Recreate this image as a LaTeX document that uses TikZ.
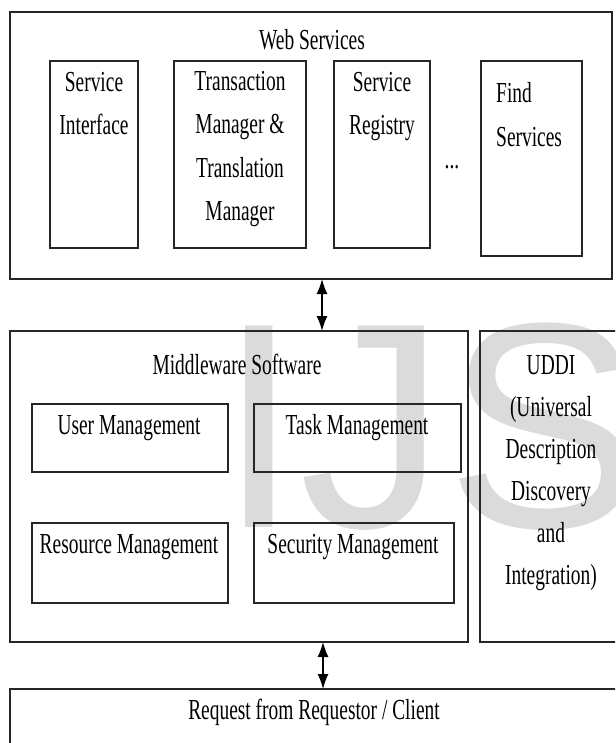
\documentclass[tikz,border=0pt]{standalone}
\usepackage{graphicx}
\usepackage{fontspec}
\setmainfont{Liberation Serif}
\newfontfamily\wmfont{Liberation Sans}
\usetikzlibrary{arrows.meta}
\newcommand{\sq}[1]{\scalebox{0.67}[1]{#1}}
\begin{document}
\begin{tikzpicture}[x=1pt,y=-1pt,
  box/.style={draw=black!85, line width=1.6pt, inner sep=0pt, outer sep=0pt},
  lbl/.style={inner sep=0pt, anchor=base, font=\fontsize{29}{43}\selectfont, align=center},
  wm/.style={inner sep=0pt, anchor=base west, text=black!14, font=\wmfont\fontsize{293}{300}\selectfont},
  link/.style={line width=1.4pt, {Latex[length=15pt,width=11pt]}-{Latex[length=15pt,width=11pt]}}]
\useasboundingbox (0,0) rectangle (615,743);
\clip (0,0) rectangle (615,743);
\fill[white] (0,0) rectangle (615,743);
% watermark
\node[wm] (wm) at (218,527) {IJS};
% Web services
\node[box, minimum width=602pt, minimum height=267pt] (ws) at (311,145.5) {};
\node[box, minimum width=88pt, minimum height=187pt] (si) at (94,154.5) {};
\node[box, minimum width=132pt, minimum height=187pt] (tm) at (240,154.5) {};
\node[box, minimum width=96pt, minimum height=187pt] (sr) at (382,154.5) {};
\node[box, minimum width=101pt, minimum height=195pt] (fs) at (531.5,158.5) {};
\node[lbl] (wst) at (312,50) {\sq{Web Services}};
\node[lbl] (sit) at (94,135) {\sq{Service}\\\sq{Interface}};
\node[lbl] (tmt) at (240,220) {\sq{Transaction}\\\sq{Manager \&}\\\sq{Translation}\\\sq{Manager}};
\node[lbl] (srt) at (382,135) {\sq{Service}\\\sq{Registry}};
\node[lbl] (dots) at (452,169) {\sq{...}};
\node[lbl, anchor=base west, align=left, font=\fontsize{29}{44}\selectfont] (fst) at (496,147) {\sq{Find}\\\sq{Services}};
% Middleware
\node[box, minimum width=458pt, minimum height=311pt] (mw) at (239,486.5) {};
\node[box, minimum width=220pt, minimum height=311pt] (uddi) at (590,486.5) {};
\node[box, minimum width=196pt, minimum height=68pt] (um) at (130,438) {};
\node[box, minimum width=207pt, minimum height=68pt] (tk) at (357.5,438) {};
\node[box, minimum width=196pt, minimum height=80pt] (rm) at (130,563) {};
\node[box, minimum width=200pt, minimum height=80pt] (sm) at (354,563) {};
\node[lbl] (mwt) at (237,374) {\sq{Middleware Software}};
\node[lbl] (umt) at (129,434) {\sq{User Management}};
\node[lbl] (tkt) at (357,434) {\sq{Task Management}};
\node[lbl] (rmt) at (129,553) {\sq{Resource Management}};
\node[lbl] (smt) at (353,553) {\sq{Security Management}};
\node[lbl, font=\fontsize{29}{42}\selectfont] (uddit) at (551,584) {\sq{UDDI}\\\sq{(Universal}\\\sq{Description}\\\sq{Discovery}\\\sq{and}\\\sq{Integration)}};
% Request
\node[box, minimum width=690pt, minimum height=111pt] (rq) at (355,744.5) {};
\node[lbl] (rqt) at (314,719) {\sq{Request from Requestor / Client}};
% connectors
\coordinate (ax) at (322,0);
\coordinate (bx) at (323,0);
\draw[link] (ax |- ws.south) -- (ax |- mw.north);
\draw[link] (bx |- mw.south) -- (bx |- rq.north);
\end{tikzpicture}
\end{document}
